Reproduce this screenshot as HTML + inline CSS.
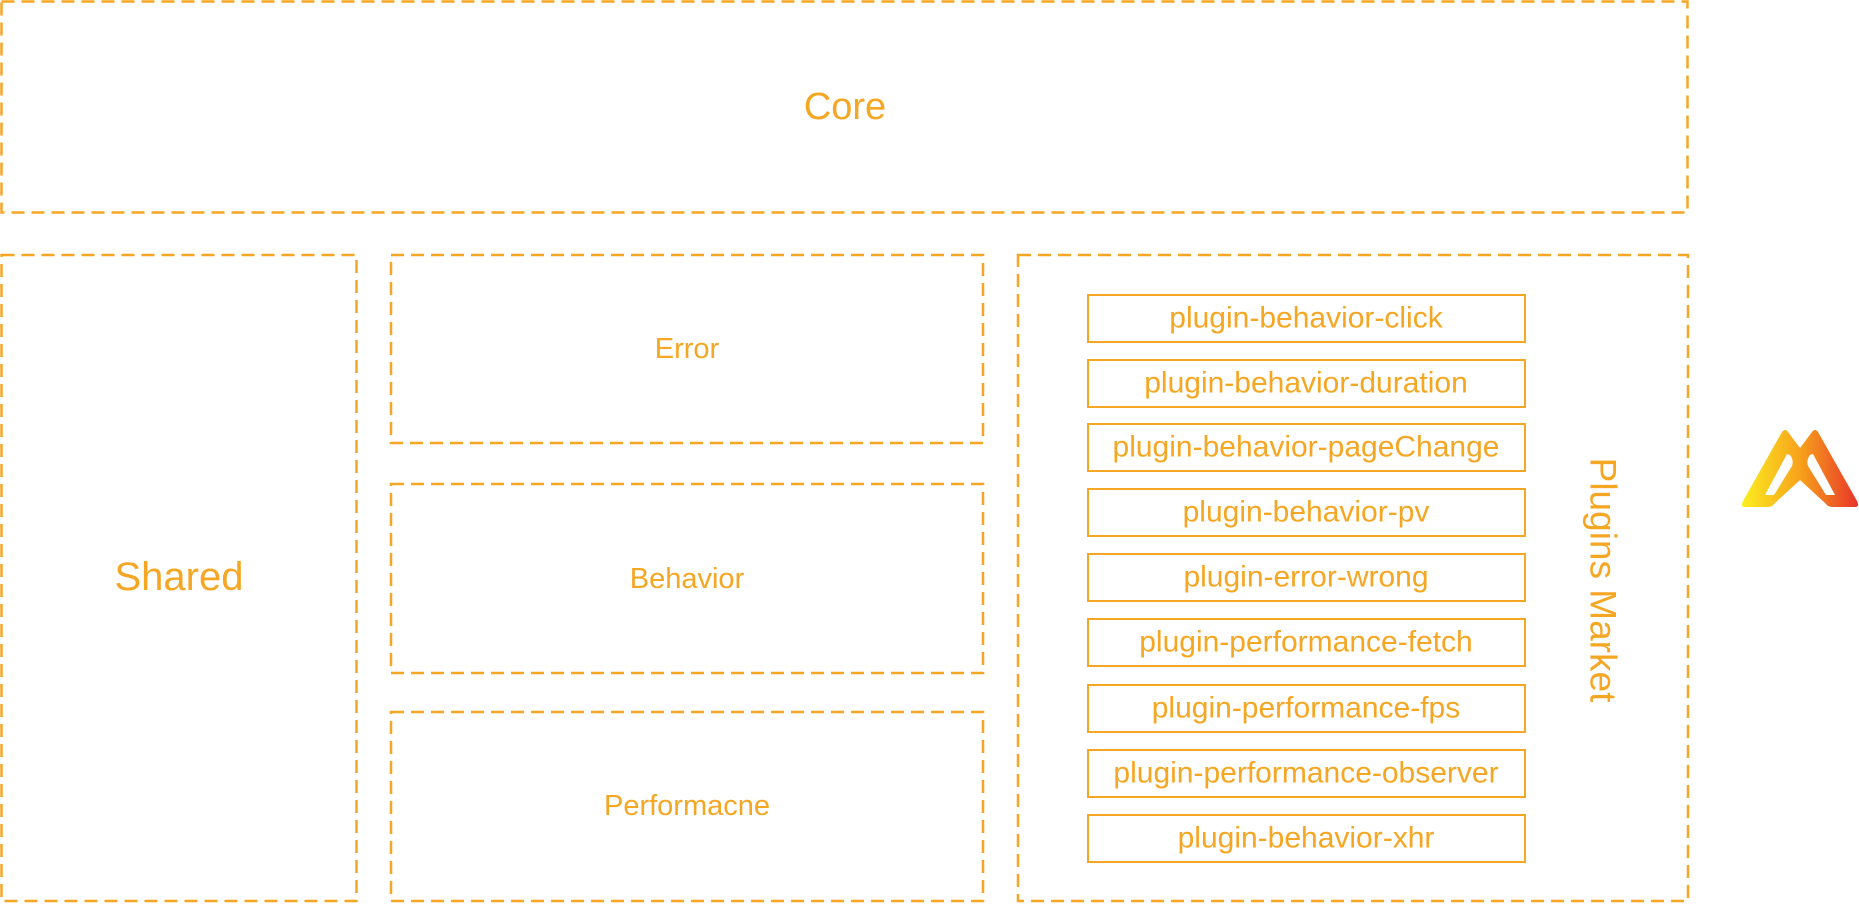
<!DOCTYPE html>
<html><head><meta charset="utf-8"><style>
html,body{margin:0;padding:0;background:#fff;}
body{width:1859px;height:903px;overflow:hidden;}
text{font-family:"Liberation Sans",sans-serif;fill:#f5a623;}
</style></head><body>
<svg width="1859" height="903" viewBox="0 0 1859 903" xmlns="http://www.w3.org/2000/svg">
<defs><linearGradient id="g" x1="0" x2="1" y1="0" y2="0"><stop offset="0" stop-color="#fcee21"/><stop offset="0.5" stop-color="#f7a21b"/><stop offset="1" stop-color="#e8342a"/></linearGradient></defs>
<g fill="none" stroke="#f5a623" stroke-width="2.5" stroke-dasharray="13,7">
<rect x="1.5" y="1.5" width="1686" height="211"/>
<rect x="1.5" y="255" width="355" height="646"/>
<rect x="391" y="255" width="592" height="188"/>
<rect x="391" y="484" width="592" height="189"/>
<rect x="391" y="712" width="592" height="189"/>
<rect x="1018" y="255" width="670" height="646"/>
</g>
<g fill="none" stroke="#f5a623" stroke-width="2">
<rect x="1088" y="295" width="437" height="47"/>
<rect x="1088" y="360" width="437" height="47"/>
<rect x="1088" y="424" width="437" height="47"/>
<rect x="1088" y="489" width="437" height="47"/>
<rect x="1088" y="554" width="437" height="47"/>
<rect x="1088" y="619" width="437" height="47"/>
<rect x="1088" y="685" width="437" height="47"/>
<rect x="1088" y="750" width="437" height="47"/>
<rect x="1088" y="815" width="437" height="47"/>
</g>
<g text-anchor="middle" dominant-baseline="central">
<text x="845" y="107" font-size="38">Core</text>
<text x="179" y="577" font-size="40">Shared</text>
<text x="687" y="349" font-size="29">Error</text>
<text x="687" y="579" font-size="29">Behavior</text>
<text x="687" y="806" font-size="29">Performacne</text>
<g font-size="30">
<text x="1306" y="318">plugin-behavior-click</text>
<text x="1306" y="383">plugin-behavior-duration</text>
<text x="1306" y="447">plugin-behavior-pageChange</text>
<text x="1306" y="512">plugin-behavior-pv</text>
<text x="1306" y="577">plugin-error-wrong</text>
<text x="1306" y="642">plugin-performance-fetch</text>
<text x="1306" y="708">plugin-performance-fps</text>
<text x="1306" y="773">plugin-performance-observer</text>
<text x="1306" y="838">plugin-behavior-xhr</text>
</g>
<text x="1603" y="580" font-size="37" transform="rotate(90 1603 580)">Plugins Market</text>
</g>
<path fill="url(#g)" fill-rule="evenodd" d="M1745,507 Q1740,507 1743,501 L1782,432 Q1785,428 1788,432 L1800,448 L1812,432 Q1815,428 1818,432 L1857,501 Q1860,507 1855,507 L1832,507 Q1828,507 1825,503 L1800,480 L1775,503 Q1772,507 1768,507 Z M1765,495 L1774,495 L1792,466 Q1794,460 1790,455 L1787,454 Z M1826,495 L1835,495 L1813,454 L1810,455 Q1806,460 1808,466 Z"/>
</svg>
</body></html>
